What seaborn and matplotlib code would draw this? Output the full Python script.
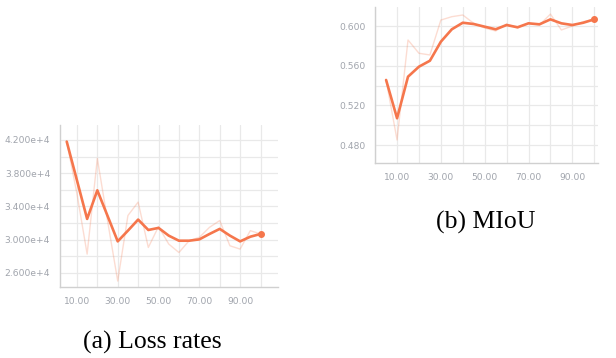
import numpy as np
import pandas as pd
import seaborn as sns
from matplotlib import pyplot as plt
from matplotlib.ticker import FuncFormatter, MultipleLocator

# steps logged every 5 epochs
steps = [5, 10, 15, 20, 25, 30, 35, 40, 45, 50, 55, 60, 65, 70, 75, 80, 85, 90, 95, 100]

# (a) loss - raw and smoothed
loss_raw = [41800, 35540, 28270, 39780, 32300, 25030, 32910, 34520, 29070, 31580,
            29480, 28460, 29880, 30280, 31490, 32300, 29270, 28870, 31090, 30690]
loss_smooth = [41800, 37150, 32500, 35940, 32870, 29800, 31090, 32420, 31170, 31420,
               30490, 29880, 29880, 30040, 30690, 31300, 30490, 29800, 30360, 30690]

# (b) MIoU - raw and smoothed
miou_raw = [0.5456, 0.4851, 0.5859, 0.5725, 0.5708, 0.6060, 0.6094, 0.6111, 0.6027, 0.5980,
            0.5950, 0.6020, 0.5980, 0.6030, 0.6010, 0.6120, 0.5960, 0.6000, 0.6044, 0.6067]
miou_smooth = [0.5456, 0.5070, 0.5489, 0.5590, 0.5650, 0.5842, 0.5967, 0.6033, 0.6020, 0.5993,
               0.5967, 0.6010, 0.5987, 0.6027, 0.6017, 0.6067, 0.6027, 0.6010, 0.6033, 0.6067]

loss_ticks = [26000, 30000, 34000, 38000, 42000]
miou_ticks = [0.48, 0.52, 0.56, 0.60]
x_ticks = [10, 30, 50, 70, 90]

line_color = '#f5764c'
tick_color = '#a0a4ac'
grid_color = '#e9e9e9'

sns.set_style("white")
plt.rcParams['font.family'] = ['DejaVu Sans']

fig = plt.figure(figsize=(6.16, 3.58), dpi=100)
ax1 = fig.add_axes([0.0974, 0.198, 0.354, 0.453])
ax2 = fig.add_axes([0.609, 0.545, 0.361, 0.435])


def style_axis(ax):
    ax.grid(True, which='both', color=grid_color, linewidth=0.9)
    ax.set_axisbelow(True)
    for side in ['top', 'right']:
        ax.spines[side].set_visible(False)
    for side in ['left', 'bottom']:
        ax.spines[side].set_color('#d0d0d0')
        ax.spines[side].set_linewidth(1.0)
    ax.tick_params(axis='both', which='both', colors='#d0d0d0', labelcolor=tick_color,
                   labelsize=6.6, length=3.5, width=0.8)
    ax.set_xticks(x_ticks)
    ax.xaxis.set_minor_locator(MultipleLocator(10))
    ax.xaxis.set_major_formatter(FuncFormatter(lambda v, p: '%.2f' % v))
    ax.set_xlabel('')
    ax.set_ylabel('')


df_loss = pd.DataFrame({'step': steps, 'raw': loss_raw, 'smooth': loss_smooth})
sns.lineplot(data=df_loss, x='step', y='raw', ax=ax1, color=line_color, alpha=0.25, linewidth=1.0)
sns.lineplot(data=df_loss, x='step', y='smooth', ax=ax1, color=line_color, linewidth=1.9)
ax1.scatter(steps[-1], loss_smooth[-1], color=line_color, s=16, zorder=5)
ax1.set_xlim(1.7, 108.6)
ax1.set_ylim(24300, 43800)
ax1.set_yticks(loss_ticks)
ax1.yaxis.set_minor_locator(MultipleLocator(2000))
ax1.yaxis.set_major_formatter(FuncFormatter(lambda v, p: '%.3fe+4' % (v / 1e4)))
style_axis(ax1)

df_miou = pd.DataFrame({'step': steps, 'raw': miou_raw, 'smooth': miou_smooth})
sns.lineplot(data=df_miou, x='step', y='raw', ax=ax2, color=line_color, alpha=0.25, linewidth=1.0)
sns.lineplot(data=df_miou, x='step', y='smooth', ax=ax2, color=line_color, linewidth=1.9)
ax2.scatter(steps[-1], miou_smooth[-1], color=line_color, s=16, zorder=5)
ax2.set_xlim(0, 101.5)
ax2.set_ylim(0.462, 0.619)
ax2.set_yticks(miou_ticks)
ax2.yaxis.set_minor_locator(MultipleLocator(0.02))
ax2.yaxis.set_major_formatter(FuncFormatter(lambda v, p: '%.3f' % v))
style_axis(ax2)

fig.text(152 / 616, 1 - 342 / 358, '(a) Loss rates', ha='center', va='center',
         fontsize=18.5, family='Liberation Serif', color='black')
fig.text(486 / 616, 1 - 222 / 358, '(b) MIoU', ha='center', va='center',
         fontsize=18.5, family='Liberation Serif', color='black')

fig.savefig('out.png', dpi=100)
